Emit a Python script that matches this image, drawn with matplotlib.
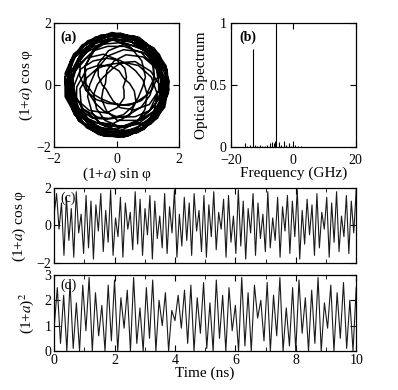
import numpy as np
import matplotlib
matplotlib.use("Agg")
import matplotlib.pyplot as plt
from matplotlib.ticker import MultipleLocator

plt.rcParams['font.family'] = ['Liberation Serif', 'DejaVu Serif']
plt.rcParams['mathtext.fontset'] = 'stix'
plt.rcParams['font.size'] = 10

# (a) phase portrait: field amplitude (1+a) and phase advance per sample (deg)
amp = [1.52, 1.58, 1.64, 1.68, 1.66, 1.60, 1.50, 1.36, 1.18, 1.00, 0.86, 0.80, 0.84, 0.98, 1.16,
       1.34, 1.48, 1.58, 1.65, 1.69, 1.68, 1.64, 1.58, 1.52, 1.47, 1.44, 1.45, 1.50, 1.56, 1.62,
       1.66, 1.67, 1.62, 1.52, 1.36, 1.14, 0.90, 0.66, 0.46, 0.36, 0.40, 0.56, 0.78, 1.02, 1.24,
       1.42, 1.55, 1.63, 1.68, 1.70, 1.68, 1.63, 1.56, 1.48, 1.40, 1.33, 1.28, 1.27, 1.31, 1.38,
       1.46, 1.54, 1.61, 1.66, 1.68, 1.64, 1.55, 1.42, 1.26, 1.08, 0.92, 0.80, 0.74, 0.76, 0.86,
       1.02, 1.20, 1.37, 1.51, 1.61, 1.67, 1.69, 1.67, 1.62, 1.56, 1.50, 1.46, 1.45, 1.48, 1.54,
       1.60, 1.65, 1.67, 1.64, 1.56, 1.44, 1.28, 1.08, 0.86, 0.64, 0.46, 0.34, 0.32, 0.42, 0.60,
       0.82, 1.05, 1.26, 1.43, 1.56, 1.64, 1.69, 1.70, 1.67, 1.62, 1.55, 1.48, 1.41, 1.36, 1.34,
       1.36, 1.42, 1.50, 1.58, 1.64, 1.67, 1.65, 1.58, 1.46, 1.30, 1.12, 0.96, 0.84, 0.80, 0.86,
       0.98, 1.14, 1.32, 1.48, 1.60, 1.67, 1.70, 1.69, 1.65, 1.59, 1.53, 1.49, 1.48, 1.51, 1.57,
       1.62, 1.66, 1.66, 1.60, 1.48, 1.30, 1.08, 0.84, 0.60, 0.40, 0.26, 0.22, 0.30, 0.48, 0.72,
       0.96, 1.20, 1.40, 1.55, 1.65, 1.70, 1.70, 1.66, 1.60, 1.52, 1.44, 1.38, 1.34, 1.34, 1.38,
       1.44, 1.52, 1.60, 1.65, 1.67, 1.64, 1.57, 1.46, 1.34, 1.22, 1.12, 1.06, 1.05, 1.10, 1.20,
       1.33, 1.46, 1.57, 1.65, 1.69, 1.68, 1.62, 1.50, 1.34, 1.14, 0.94, 0.76, 0.64, 0.60, 0.66,
       0.80, 0.98, 1.18, 1.37, 1.52, 1.63, 1.69, 1.70, 1.67, 1.62, 1.56, 1.51, 1.48, 1.48, 1.52,
       1.57, 1.62, 1.66, 1.66, 1.61, 1.52, 1.38, 1.20, 1.00, 0.82, 0.68, 0.62, 0.66, 0.80, 1.00,
       1.22, 1.41, 1.56, 1.65, 1.70, 1.69, 1.64, 1.57, 1.49, 1.42, 1.36, 1.32, 1.32, 1.36, 1.44,
       1.52, 1.60, 1.66, 1.68, 1.65, 1.56, 1.42, 1.22, 0.98, 0.74, 0.52, 0.38, 0.36, 0.46, 0.66,
       0.90, 1.14, 1.36, 1.52, 1.63, 1.69, 1.70, 1.67, 1.61, 1.54, 1.48, 1.44, 1.43, 1.46, 1.52,
       1.58, 1.63, 1.66, 1.65, 1.59, 1.48, 1.34, 1.18, 1.04, 0.94, 0.90, 0.94, 1.04, 1.18, 1.34,
       1.48, 1.59, 1.66, 1.69, 1.68, 1.62, 1.52, 1.38, 1.20, 1.00, 0.80, 0.62, 0.50, 0.48, 0.56,
       0.74, 0.96, 1.18, 1.38, 1.53, 1.63, 1.68, 1.70, 1.68, 1.63, 1.57, 1.50, 1.44, 1.40, 1.39,
       1.42, 1.48, 1.56, 1.62, 1.66, 1.66, 1.60, 1.50, 1.36, 1.18, 0.98, 0.82, 0.72, 0.70, 0.78,
       0.94, 1.14, 1.34, 1.50, 1.61, 1.68, 1.70, 1.68, 1.63, 1.56, 1.50, 1.46, 1.45, 1.48, 1.53]
phase_step = [24, 27, 22, 26, 30, 21, 25, 28, 19, 26, 23, 29, 24, 20, 27,
              26, 21, 29, 24, 18, 27, 31, 23, 25, 20, 28, 24, 26, 30, 22,
              23, 28, 25, 19, 27, 32, 22, 26, 24, 29, 21, 25, 28, 23, 26,
              27, 22, 26, 30, 24, 20, 28, 25, 23, 27, 31, 21, 24, 26, 29,
              21, 26, 28, 23, 25, 29, 19, 27, 30, 22, 24, 28, 25, 20, 26,
              28, 24, 20, 27, 26, 23, 30, 21, 25, 28, 22, 26, 29, 24, 19,
              25, 29, 23, 21, 28, 26, 24, 31, 20, 25, 27, 23, 22, 28, 26,
              22, 25, 30, 26, 19, 24, 28, 23, 27, 21, 29, 25, 24, 26, 30,
              29, 23, 24, 28, 25, 21, 26, 30, 22, 24, 26, 28, 19, 27, 23,
              24, 28, 21, 25, 29, 27, 22, 24, 26, 30, 20, 23, 27, 25, 28,
              26, 20, 27, 24, 23, 30, 25, 21, 28, 26, 24, 29, 23, 22, 27,
              23, 27, 26, 29, 21, 24, 28, 25, 20, 27, 31, 22, 26, 24, 25,
              28, 22, 25, 23, 27, 26, 20, 29, 24, 22, 26, 25, 30, 27, 21,
              25, 30, 24, 21, 26, 28, 23, 27, 25, 19, 24, 28, 22, 26, 29,
              21, 24, 29, 27, 22, 25, 30, 24, 26, 28, 21, 23, 27, 25, 24,
              27, 25, 22, 30, 24, 23, 26, 21, 29, 25, 27, 24, 20, 28, 26,
              24, 21, 28, 25, 27, 29, 22, 26, 23, 24, 30, 25, 28, 21, 25,
              30, 26, 23, 24, 20, 27, 25, 28, 24, 26, 22, 29, 25, 23, 27,
              22, 28, 25, 27, 26, 21, 29, 24, 27, 23, 25, 20, 26, 30, 24,
              26, 23, 27, 20, 29, 25, 24, 22, 28, 26, 24, 27, 21, 25, 28,
              25, 27, 24, 28, 23, 26, 21, 30, 25, 22, 27, 24, 29, 26, 23,
              23, 26, 30, 22, 25, 28, 24, 27, 21, 25, 26, 23, 27, 24, 29,
              28, 24, 21, 26, 27, 23, 29, 25, 24, 28, 20, 26, 25, 27, 22,
              24, 29, 26, 25, 22, 27, 23, 26, 30, 24, 25, 21, 28, 23, 26]

# (b) optical spectrum lines
freq = [-15.5, -14.8, -14.0, -12.9, -12.2, -11.5, -10.8, -10.0, -9.2, -8.4, -7.6,
        -6.8, -6.2, -5.8, -5.4, -4.6, -3.8, -3.0, -2.2, -1.4, -0.6, 0.4, 1.6, 2.4]
power = [0.03, 0.01, 0.02, 0.79, 0.02, 0.01, 0.02, 0.01, 0.01, 0.02, 0.03,
         0.04, 0.03, 0.05, 1.00, 0.04, 0.02, 0.05, 0.02, 0.03, 0.01, 0.02, 0.01, 0.01]

# (c) (1+a) cos(phi) time trace, 0-10 ns
cos_trace = [0.6, 1.7, -0.2, 1.2, -1.6, 1.5, -0.8, 0.9, -1.7, 1.8, -0.4, 0.6,
             -1.5, 1.6, -1.2, 1.3, -1.8, 1.1, -0.3, 1.7, -1.4, 0.8, -0.9, 1.9,
             -1.6, 0.4, -0.6, 1.5, -1.7, 1.2, -0.2, 0.7, -1.3, 1.8, -1.0, 1.4,
             -1.6, 0.9, -0.5, 1.6, -1.8, 1.3, -0.7, 0.5, -1.2, 1.7, -1.5, 1.0,
             -0.4, 1.9, -1.7, 0.6, -1.1, 1.5, -0.8, 1.2, -1.6, 1.7, -0.3, 0.8,
             -1.4, 1.6, -1.7, 1.1, -0.6, 1.8, -1.3, 0.7, -0.2, 1.4, -1.7, 1.6,
             -0.9, 0.5, -1.5, 1.9, -1.1, 1.3, -1.8, 0.9, -0.4, 1.7, -1.6, 1.2,
             -0.7, 0.6, -1.4, 1.8, -1.2, 0.4, -0.8, 1.5, -1.7, 1.0, -0.3, 1.6,
             -1.5, 1.3, -0.6, 1.9, -1.8, 0.8, -1.0, 1.4, -0.5, 1.1, -1.6, 1.7,
             -1.2, 0.7, -0.2, 1.5, -1.7, 1.2, -0.9, 1.8, -1.4, 0.5, -0.6, 1.6,
             -1.5, 1.3, -0.4, 1.9]

# (d) (1+a)^2 time trace, 0-10 ns
int_trace = [0.9, 2.5, 0.3, 2.2, 0.0, 2.7, 0.1, 1.9, 0.0, 2.6, 0.8, 2.9, 0.0, 2.3,
             0.6, 1.8, 0.0, 2.6, 0.4, 2.8, 0.0, 2.1, 0.9, 2.4, 0.0, 2.9, 0.3, 1.7,
             0.0, 2.5, 0.5, 2.8, 0.0, 2.0, 1.0, 2.3, 0.0, 1.6, 1.2, 2.2, 0.9, 2.4,
             0.3, 2.6, 0.0, 2.1, 0.7, 2.7, 0.1, 1.9, 0.0, 2.8, 0.5, 2.2, 0.0, 2.5,
             0.8, 1.8, 0.0, 2.9, 0.2, 2.3, 0.0, 2.6, 1.3, 2.0, 0.4, 2.7, 0.0, 2.2,
             0.6, 2.9, 0.0, 1.7, 0.2, 2.5, 0.0, 2.8, 0.7, 2.1, 0.0, 2.4, 0.3, 2.9,
             0.0, 1.9, 0.9, 2.6, 0.0, 2.3, 0.5, 2.7, 0.1, 2.0, 0.0, 2.5]

fig = plt.figure(figsize=(3.98, 3.90), dpi=100)
ax_a = fig.add_axes([0.136, 0.623, 0.314, 0.318])
ax_b = fig.add_axes([0.580, 0.623, 0.314, 0.318])
ax_c = fig.add_axes([0.136, 0.326, 0.759, 0.192])
ax_d = fig.add_axes([0.136, 0.100, 0.759, 0.195])

for ax in (ax_a, ax_b, ax_c, ax_d):
    ax.tick_params(direction='in', top=True, right=True, length=4, width=0.8,
                   labelsize=10, pad=2)
    ax.tick_params(which='minor', direction='in', top=True, right=True, length=3)
    for s in ax.spines.values():
        s.set_linewidth(0.9)

# (a)
phi = np.radians(np.cumsum(phase_step))
r = np.array(amp)
ax_a.plot(r * np.sin(phi), r * np.cos(phi), color='black', lw=1.1)
ax_a.set_xlim(-2, 2)
ax_a.set_ylim(-2, 2)
ax_a.set_xticks([-2, 0, 2])
ax_a.set_yticks([-2, 0, 2])
ax_a.tick_params(axis='x', pad=4)
ax_a.set_xlabel('(1+$a$) sin φ', fontsize=11, labelpad=0)
ax_a.set_ylabel('(1+$a$) cos φ', fontsize=11, labelpad=1)
ax_a.text(0.05, 0.86, '(a)', transform=ax_a.transAxes, fontsize=10, fontweight='bold')

# (b)
ax_b.plot([freq[0] - 0.5, freq[-1] + 0.5], [0.003, 0.003], color='black', lw=0.6)
ax_b.vlines(freq, 0, power, color='black', lw=0.8)
ax_b.set_xlim(-20, 20)
ax_b.set_ylim(0, 1)
ax_b.set_xticks([-20, 0, 20])
ax_b.set_yticks([0, 0.5, 1])
ax_b.set_yticklabels(['0', '0.5', '1'])
ax_b.tick_params(axis='x', pad=5)
ax_b.tick_params(axis='y', pad=3)
ax_b.set_xlabel('Frequency (GHz)', fontsize=11, labelpad=0)
ax_b.set_ylabel('Optical Spectrum', fontsize=11, labelpad=1)
ax_b.text(0.07, 0.86, '(b)', transform=ax_b.transAxes, fontsize=10, fontweight='bold')

# (c)
t_c = np.linspace(0, 10, len(cos_trace))
ax_c.plot(t_c, cos_trace, color='0.1', lw=0.8)
ax_c.set_xlim(0, 10)
ax_c.set_ylim(-2, 2)
ax_c.set_yticks([-2, 0, 2])
ax_c.xaxis.set_major_locator(MultipleLocator(2))
ax_c.xaxis.set_minor_locator(MultipleLocator(1))
ax_c.tick_params(labelbottom=False)
ax_c.set_ylabel('(1+$a$) cos φ', fontsize=11, labelpad=6)
ax_c.text(0.02, 0.82, '(c)', transform=ax_c.transAxes, fontsize=10)

# (d)
t_d = np.linspace(0, 10, len(int_trace))
ax_d.plot(t_d, int_trace, color='0.1', lw=0.8)
ax_d.set_xlim(0, 10)
ax_d.set_ylim(0, 3)
ax_d.set_yticks([0, 1, 2, 3])
ax_d.xaxis.set_major_locator(MultipleLocator(2))
ax_d.xaxis.set_minor_locator(MultipleLocator(1))
ax_d.set_xlabel('Time (ns)', fontsize=11, labelpad=0)
ax_d.set_ylabel('(1+$a$)$^2$', fontsize=11, labelpad=6)
ax_d.text(0.02, 0.82, '(d)', transform=ax_d.transAxes, fontsize=10)

fig.savefig('out.png', dpi=100)
